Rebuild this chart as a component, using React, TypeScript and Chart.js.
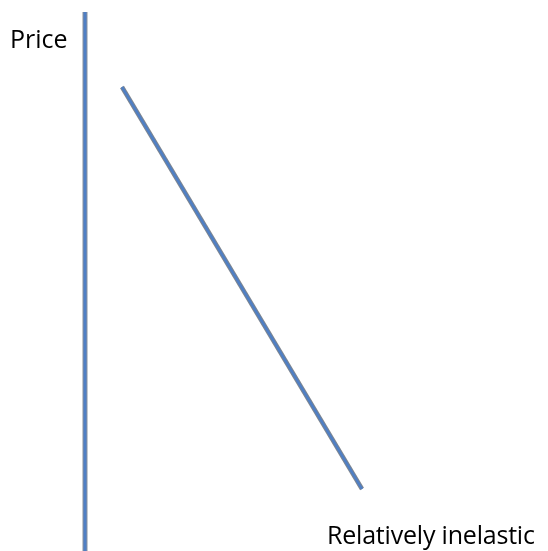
import React, { useEffect, useRef } from "react";
import { Chart, registerables } from "chart.js";

Chart.register(...registerables);

// (x: quantity, y: price, in plot units)
const axisX = [85, 85];
const axisY = [0, 539];
const demandX = [122, 362];
const demandY = [464, 62];
const axisLabel = "Price";
const curveLabel = "Relatively inelastic";

const W = 548;
const H = 551;

export default function App() {
  const ref = useRef<HTMLCanvasElement | null>(null);
  useEffect(() => {
    if (!ref.current) return;
    const pts = (xs: number[], ys: number[]) => xs.map((x, i) => ({ x, y: ys[i] }));
    const chart = new Chart(ref.current, {
      type: "scatter",
      data: {
        datasets: [
          { data: pts(axisX, axisY), showLine: true, borderColor: "#8a93a0", borderWidth: 5, pointRadius: 0, order: 4 },
          { data: pts(axisX, axisY), showLine: true, borderColor: "#4f7fc4", borderWidth: 3, pointRadius: 0, order: 3 },
          { data: pts(demandX, demandY), showLine: true, borderColor: "#7d8590", borderWidth: 4.5, pointRadius: 0, order: 2 },
          { data: pts(demandX, demandY), showLine: true, borderColor: "#4f7fc4", borderWidth: 2.5, pointRadius: 0, order: 1 },
        ],
      },
      options: {
        animation: false,
        responsive: false,
        devicePixelRatio: 1,
        layout: { padding: 0 },
        plugins: { legend: { display: false }, tooltip: { enabled: false }, title: { display: false } },
        scales: {
          x: { type: "linear", min: 0, max: W, display: false },
          y: { type: "linear", min: 0, max: H, display: false },
        },
      },
    });
    return () => chart.destroy();
  }, []);

  const font = "'Open Sans', sans-serif";
  return (
    <div style={{ position: "fixed", left: 0, top: 0, width: W, height: H, background: "#fff", overflow: "hidden" }}>
      <canvas ref={ref} width={W} height={H} style={{ position: "absolute", left: 0, top: 0, width: W, height: H }} />
      <div style={{ position: "absolute", left: 10, top: 26, fontFamily: font, fontSize: 25, lineHeight: 1, color: "#000", whiteSpace: "nowrap" }}>
        {axisLabel}
      </div>
      <div style={{ position: "absolute", left: 327, top: 522, fontFamily: font, fontSize: 25, lineHeight: 1, color: "#000", whiteSpace: "nowrap", letterSpacing: -0.2 }}>
        {curveLabel}
      </div>
    </div>
  );
}
